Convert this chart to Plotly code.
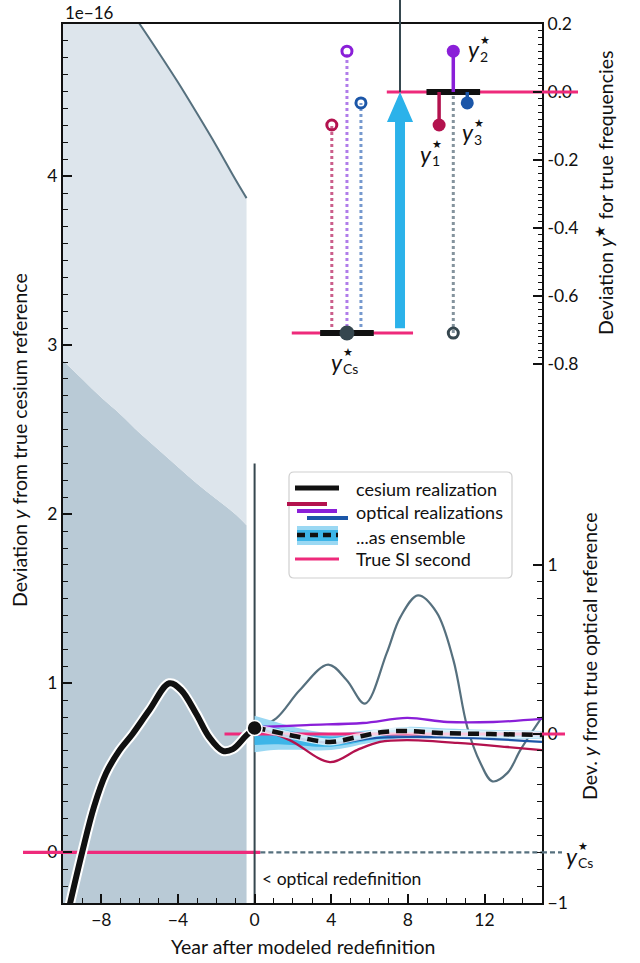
import plotly.graph_objects as go

# ---------------- data ----------------
ces_year = [-9.75, -9.0, -8.38, -7.76, -7.07, -6.37, -5.5, -4.45, -3.84, -3.05, -2.36, -1.66, -1.14, -0.44, 0.0]
ces_dev = [-0.36, 0.0, 0.27, 0.466, 0.60, 0.70, 0.84, 1.0, 0.96, 0.82, 0.68, 0.60, 0.61, 0.69, 0.735]

region_year = [-10, -9, -8, -7, -6, -5, -4, -3, -2, -1, -0.42]
region_floor = [-1.0, -1.0, -1.0, -1.0, -1.0, -1.0, -1.0, -1.0, -1.0, -1.0, -1.0]
region_inner_top = [2.91, 2.80, 2.69, 2.59, 2.48, 2.38, 2.28, 2.18, 2.09, 2.00, 1.935]
region_outer_top = [5.52, 5.37, 5.22, 5.06, 4.90, 4.73, 4.555, 4.37, 4.18, 3.98, 3.87]

si_left_year = [-10, 0.3]
si_left_val = [0, 0]
cs_ref_year = [0.3, 15]
cs_ref_val = [0, 0]
redef_year = [0, 0]
redef_val = [-0.3, 2.3]

drift_year = [0.16, 1.13, 2.36, 3.84, 4.8, 5.76, 6.9, 7.6, 8.53, 9.5, 10.37, 11.1, 11.78, 12.41, 13.2, 13.87, 15.0]
drift_val = [0.04, 0.093, 0.26, 0.41, 0.32, 0.18, 0.48, 0.69, 0.82, 0.72, 0.44, 0.04, -0.17, -0.28, -0.23, -0.095, 0.10]

opt1_year = [0, 1.83, 3.93, 5.34, 6.54, 7.96, 10.58, 13.2, 15]
opt1_val = [0.04, -0.036, -0.166, -0.095, -0.047, -0.036, -0.053, -0.077, -0.095]
opt2_year = [0, 2.72, 5.65, 7.96, 10.05, 12.46, 15]
opt2_val = [0.04, 0.053, 0.065, 0.095, 0.071, 0.071, 0.089]
opt3_year = [0, 2.0, 4.0, 6.2, 8.0, 11.4, 15]
opt3_val = [0.04, -0.02, -0.053, -0.024, -0.018, -0.024, -0.047]
ens_year = [0, 1.83, 3.93, 5.34, 6.7, 7.96, 9.7, 12.3, 15]
ens_val = [0.04, -0.006, -0.047, -0.018, 0.012, 0.018, 0.006, 0.0, -0.006]

band_year = [0, 1, 2, 4, 6, 8, 10, 12, 15]
band_center = [0.0, -0.01, -0.025, -0.045, -0.015, 0.012, 0.005, 0.0, -0.006]
band_outer_hw = [0.108, 0.085, 0.068, 0.05, 0.038, 0.03, 0.027, 0.025, 0.024]
band_inner_hw = [0.065, 0.05, 0.04, 0.03, 0.022, 0.018, 0.016, 0.015, 0.014]

si_opt_year = [-1.57, 15]
si_opt_val = [0, 0]

# inset (true-frequency deviations y*)
ystar_vals = [-0.097, 0.12, -0.032]
ystar_cs = -0.709
ystar_new = 0.0
inset_open_x = [4.03, 4.82, 5.55]
inset_dot_x = [9.63, 10.37, 11.1]
inset_cs_x = 4.82
inset_new_x = 10.37
inset_bar = [1.4]
inset_si_cs_year = [1.94, 8.27]
inset_si_new_year = [6.9, 15]
arrow_x = 7.59
arrow_y0 = -0.695

# ---------------- style ----------------
W, H = 640, 963
ML, MR, MT, MB = 63, 98, 24, 60
PW = W - ML - MR
PH = H - MT - MB
FONT = "Lato"
INK = "#111111"
PINK = "#ee2a7b"
CRIMSON = "#b3124e"
PURPLE = "#8a1fd8"
BLUE = "#1b56a8"
SKY = "#2bb2ea"
SKY_LIGHT = "#9ad8f3"
SKY_MID = "#3db5e8"
SLATE = "#56707e"
DARK = "#36474f"
REGION_LIGHT = "#dde5ec"
REGION_DARK = "#b9cad6"
DOT_COLORS = ["rgba(185,40,100,0.75)", "rgba(150,80,225,0.75)", "rgba(60,110,185,0.7)"]
TICK_SIZE = 17.5
TITLE_SIZE = 19.5


def px(x):
    return (x - ML) / PW


def py(y):
    return (H - MB - y) / PH


fig = go.Figure()


def add(**kw):
    kw.setdefault("showlegend", False)
    kw.setdefault("hoverinfo", "skip")
    fig.add_trace(go.Scatter(**kw))


# ---- base layer: cesium axis (y) ----
add(x=region_year, y=region_floor, mode="lines", line=dict(width=0), yaxis="y")
add(x=region_year, y=region_inner_top, mode="lines", line=dict(width=0, shape="spline"),
    fill="tonexty", fillcolor=REGION_DARK, yaxis="y")
add(x=region_year, y=region_outer_top, mode="lines", line=dict(width=2, color=SLATE, shape="spline"),
    fill="tonexty", fillcolor=REGION_LIGHT, yaxis="y")
add(x=si_left_year, y=si_left_val, mode="lines", line=dict(width=3.2, color=PINK), yaxis="y")
add(x=cs_ref_year, y=cs_ref_val, mode="lines", line=dict(width=2.2, color=SLATE, dash="5px,3px"), yaxis="y")
add(x=redef_year, y=redef_val, mode="lines", line=dict(width=2, color=DARK), yaxis="y")

# ---- inset layer (y2) ----
add(x=inset_si_cs_year, y=[ystar_cs, ystar_cs], mode="lines", line=dict(width=3, color=PINK), yaxis="y2")
add(x=inset_si_new_year, y=[ystar_new, ystar_new], mode="lines", line=dict(width=3, color=PINK), yaxis="y2")
for xo, v, c in zip(inset_open_x, ystar_vals, DOT_COLORS):
    add(x=[xo, xo], y=[ystar_cs, v], mode="lines", line=dict(width=3, color=c, dash="3px,3px"), yaxis="y2")
add(x=[inset_new_x, inset_new_x], y=[ystar_cs, ystar_new], mode="lines",
    line=dict(width=3, color="rgba(110,128,140,0.85)", dash="3px,3px"), yaxis="y2")
add(x=[inset_cs_x - inset_bar[0], inset_cs_x + inset_bar[0]], y=[ystar_cs, ystar_cs], mode="lines",
    line=dict(width=6, color=INK), yaxis="y2")
add(x=[inset_new_x - inset_bar[0], inset_new_x + inset_bar[0]], y=[ystar_new, ystar_new], mode="lines",
    line=dict(width=6, color=INK), yaxis="y2")
for xd, v, c in zip(inset_dot_x, ystar_vals, [CRIMSON, PURPLE, BLUE]):
    add(x=[xd, xd], y=[ystar_new, v], mode="lines", line=dict(width=3.5, color=c), yaxis="y2")
add(x=inset_open_x, y=ystar_vals, mode="markers",
    marker=dict(symbol="circle-open", size=10, color=[CRIMSON, PURPLE, BLUE], line=dict(width=3)), yaxis="y2")
add(x=inset_dot_x, y=ystar_vals, mode="markers",
    marker=dict(size=13, color=[CRIMSON, PURPLE, BLUE]), yaxis="y2")
add(x=[inset_new_x], y=[ystar_cs], mode="markers",
    marker=dict(symbol="circle-open", size=10, color=DARK, line=dict(width=3)), yaxis="y2")
add(x=[inset_cs_x], y=[ystar_cs], mode="markers", marker=dict(size=15, color=DARK), yaxis="y2")
# arrow (from y*_Cs level up to the new definition)
sw, hw, hl = 0.26, 0.68, 0.088
add(x=[arrow_x - sw, arrow_x - sw, arrow_x - hw, arrow_x, arrow_x + hw, arrow_x + sw, arrow_x + sw, arrow_x - sw],
    y=[arrow_y0, ystar_new - hl, ystar_new - hl, ystar_new, ystar_new - hl, ystar_new - hl, arrow_y0, arrow_y0],
    mode="lines", line=dict(width=0), fill="toself", fillcolor=SKY, yaxis="y2")
add(x=[arrow_x, arrow_x], y=[ystar_new, 0.3], mode="lines", line=dict(width=2, color=DARK), yaxis="y2")

# ---- optical layer (y3) ----
add(x=drift_year, y=drift_val, mode="lines", line=dict(width=2.2, color=SLATE, shape="spline"), yaxis="y3")
b_out_lo = [c - h for c, h in zip(band_center, band_outer_hw)]
b_out_hi = [c + h for c, h in zip(band_center, band_outer_hw)]
b_in_lo = [c - h for c, h in zip(band_center, band_inner_hw)]
b_in_hi = [c + h for c, h in zip(band_center, band_inner_hw)]
add(x=band_year, y=b_out_lo, mode="lines", line=dict(width=0, shape="spline"), yaxis="y3")
add(x=band_year, y=b_out_hi, mode="lines", line=dict(width=0, shape="spline"), fill="tonexty",
    fillcolor=SKY_LIGHT, yaxis="y3")
add(x=band_year, y=b_in_lo, mode="lines", line=dict(width=0, shape="spline"), yaxis="y3")
add(x=band_year, y=b_in_hi, mode="lines", line=dict(width=0, shape="spline"), fill="tonexty",
    fillcolor=SKY_MID, yaxis="y3")
add(x=si_opt_year, y=si_opt_val, mode="lines", line=dict(width=3, color=PINK), yaxis="y3")
add(x=opt1_year, y=opt1_val, mode="lines", line=dict(width=2.3, color=CRIMSON, shape="spline"), yaxis="y3")
add(x=opt2_year, y=opt2_val, mode="lines", line=dict(width=2.3, color=PURPLE, shape="spline"), yaxis="y3")
add(x=opt3_year, y=opt3_val, mode="lines", line=dict(width=2.3, color=BLUE, shape="spline"), yaxis="y3")
add(x=ens_year, y=ens_val, mode="lines", line=dict(width=7, color="rgba(255,255,255,0.75)", shape="spline"), yaxis="y3")
add(x=ens_year, y=ens_val, mode="lines", line=dict(width=4.5, color=INK, shape="spline", dash="11px,7px"), yaxis="y3")

# ---- top layer: cesium curve (y4 mirrors y) ----
add(x=ces_year, y=ces_dev, mode="lines", line=dict(width=10, color="white", shape="spline"), yaxis="y4")
add(x=ces_year, y=ces_dev, mode="lines", line=dict(width=6, color=INK, shape="spline"), yaxis="y4")
add(x=[ces_year[-1]], y=[ces_dev[-1]], mode="markers",
    marker=dict(size=15, color=INK, line=dict(width=1.5, color="white")), yaxis="y4")

# ---------------- shapes (overhangs, legend) ----------------
shapes = []
shapes.append(dict(type="line", xref="paper", yref="y", x0=px(23), x1=0, y0=0, y1=0,
                   line=dict(color=PINK, width=3.2)))
shapes.append(dict(type="line", xref="paper", yref="y", x0=1, x1=px(562), y0=0, y1=0,
                   line=dict(color=SLATE, width=2.2, dash="5px,3px")))
shapes.append(dict(type="line", xref="paper", yref="y3", x0=1, x1=px(565), y0=0, y1=0,
                   line=dict(color=PINK, width=3)))
shapes.append(dict(type="line", xref="paper", yref="y2", x0=1, x1=px(578), y0=0, y1=0,
                   line=dict(color=PINK, width=3)))
shapes.append(dict(type="line", xref="x", yref="paper", x0=arrow_x, x1=arrow_x, y0=1, y1=1.03,
                   line=dict(color=DARK, width=2)))

# legend box (rounded)
bx0, bx1, by0, by1, r = 289, 512, 472, 578, 5


def P(x, y):
    return f"{px(x):.5f},{py(y):.5f}"


path = (f"M{P(bx0 + r, by0)} L{P(bx1 - r, by0)} Q{P(bx1, by0)} {P(bx1, by0 + r)} "
        f"L{P(bx1, by1 - r)} Q{P(bx1, by1)} {P(bx1 - r, by1)} L{P(bx0 + r, by1)} "
        f"Q{P(bx0, by1)} {P(bx0, by1 - r)} L{P(bx0, by0 + r)} Q{P(bx0, by0)} {P(bx0 + r, by0)} Z")
shapes.append(dict(type="path", xref="paper", yref="paper", path=path,
                   fillcolor="rgba(255,255,255,0.92)", line=dict(color="#cfcfcf", width=1.2)))


def seg(x0, x1, y, color, width, dash=None):
    ln = dict(color=color, width=width)
    if dash:
        ln["dash"] = dash
    shapes.append(dict(type="line", xref="paper", yref="paper", x0=px(x0), x1=px(x1),
                       y0=py(y), y1=py(y), line=ln))


seg(295, 339, 488, INK, 5)
seg(287, 327, 504, CRIMSON, 4)
seg(297, 337, 511, PURPLE, 4)
seg(307, 348, 518, BLUE, 4)
shapes.append(dict(type="rect", xref="paper", yref="paper", x0=px(297), x1=px(338), y0=py(545), y1=py(526),
                   fillcolor=SKY_LIGHT, line=dict(width=0)))
shapes.append(dict(type="rect", xref="paper", yref="paper", x0=px(297), x1=px(338), y0=py(541), y1=py(530),
                   fillcolor=SKY_MID, line=dict(width=0)))
seg(297, 338, 535, INK, 4.5, "8px,5px")
seg(295, 339, 559, PINK, 3)

# ---------------- annotations ----------------
ann = []
TF = dict(family=FONT, size=TICK_SIZE, color=INK)


def text(x, y, s, xref="paper", yref="paper", size=16, xanchor="center", yanchor="middle", angle=0, **kw):
    d = dict(x=x, y=y, xref=xref, yref=yref, text=s, showarrow=False, xanchor=xanchor, yanchor=yanchor,
             textangle=angle, font=dict(family=FONT, size=size, color=INK))
    d.update(kw)
    ann.append(d)


for s, yy in [("cesium realization", 489), ("optical realizations", 512),
              ("...as ensemble", 537), ("True SI second", 559)]:
    text(px(354), py(yy), s, xanchor="left", size=18)

text(px(19), py(440), "Deviation <i>y</i> from true cesium reference", angle=-90, size=TITLE_SIZE)
text(px(604), py(193), "Deviation <i>y</i><sup>★</sup> for true frequencies", angle=-90, size=TITLE_SIZE)
text(px(589), py(657), "Dev. <i>y</i> from true optical reference", angle=-90, size=TITLE_SIZE)
text(0.5, py(947), "Year after modeled redefinition", size=TITLE_SIZE)
text(0, py(12), "1e−16", xanchor="left", size=17)
text(0.3, -0.155, "&lt; optical redefinition", xref="x", yref="y", xanchor="left", size=17.5)


def ystar(x, y, sub, xref="x", yref="y2"):
    text(x, y, "<i>y</i>", xref=xref, yref=yref, size=23)
    text(x, y, "★", xref=xref, yref=yref, size=11, xanchor="left", xshift=4, yshift=10)
    text(x, y, sub, xref=xref, yref=yref, size=14, xanchor="left", xshift=4, yshift=-7)


ystar(11.47, 0.126, "2")
ystar(8.95, -0.182, "1")
ystar(11.15, -0.118, "3")
ystar(4.29, -0.794, "Cs")
ystar(px(572), -0.02, "Cs", xref="paper", yref="y")

# ---------------- axes ----------------
AX = dict(showgrid=False, zeroline=False, showline=True, linewidth=2, linecolor=INK,
          ticks="inside", ticklen=9, tickwidth=1.5, tickcolor=INK, tickfont=TF, automargin=False)


def minor_vals(lo, hi, step, skip):
    n = int(round((hi - lo) / step))
    out = []
    for i in range(n + 1):
        v = round(lo + i * step, 4)
        if all(abs(v - s) > 1e-6 for s in skip):
            out.append(v)
    return out


y2_major = [0.2, 0.0, -0.2, -0.4, -0.6, -0.8]
y3_major = [-1, 0, 1]

fig.update_layout(
    width=W, height=H, margin=dict(l=ML, r=MR, t=MT, b=MB, autoexpand=False),
    paper_bgcolor="white", plot_bgcolor="white", showlegend=False,
    font=dict(family=FONT, color=INK),
    xaxis=dict(AX, range=[-10, 15], mirror=True, tickvals=[-8, -4, 0, 4, 8, 12],
               ticktext=["−8", "−4", "0", "4", "8", "12"],
               minor=dict(dtick=1, tick0=0, ticks="inside", ticklen=5, tickwidth=1.2, tickcolor=INK)),
    yaxis=dict(AX, range=[-0.3, 4.9], side="left", tickvals=[0, 1, 2, 3, 4],
               minor=dict(dtick=0.1, tick0=0, ticks="inside", ticklen=5, tickwidth=1.2, tickcolor=INK)),
    yaxis2=dict(AX, overlaying="y", side="right", anchor="x", range=[0.2 - PH / 340.0, 0.2],
                tickvals=y2_major, ticktext=["0.2", "0.0", "-0.2", "-0.4", "-0.6", "-0.8"],
                minor=dict(tickvals=minor_vals(-0.8, 0.2, 0.02, y2_major), ticks="inside", ticklen=4,
                           tickwidth=1.1, tickcolor=INK)),
    yaxis3=dict(AX, overlaying="y", side="right", anchor="x", range=[-1, -1 + PH / 169.0],
                tickvals=y3_major, ticktext=["−1", "0", "1"],
                minor=dict(tickvals=minor_vals(-1, 1, 0.1, y3_major), ticks="inside", ticklen=5,
                           tickwidth=1.2, tickcolor=INK)),
    yaxis4=dict(overlaying="y", range=[-0.3, 4.9], visible=False, showgrid=False, zeroline=False),
    shapes=shapes,
    annotations=ann,
)

fig.write_html("out.html")
